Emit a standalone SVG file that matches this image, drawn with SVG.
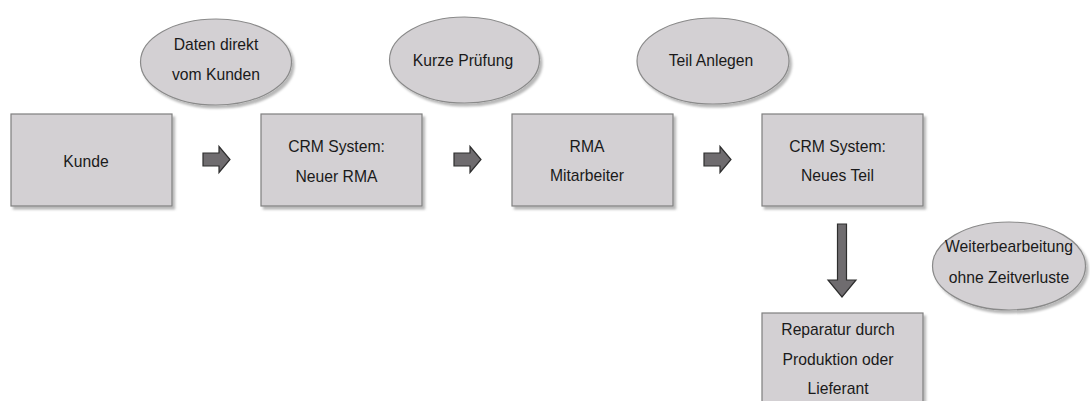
<svg xmlns="http://www.w3.org/2000/svg" width="1090" height="401" viewBox="0 0 1090 401">
  <defs>
    <filter id="shadow" x="-10%" y="-10%" width="125%" height="130%">
      <feDropShadow dx="2.5" dy="3" stdDeviation="1.2" flood-color="#000" flood-opacity="0.28"/>
    </filter>
    <!-- block arrow pointing right, origin at its left/middle -->
    <path id="arrowR" d="M0,-6.5 H16 V-13 L27,0 L16,13 V6.5 H0 Z"/>
  </defs>
  <style>
    .box { fill: #d3d0d3; stroke: #7f7f7f; stroke-width: 1.2; filter: url(#shadow); }
    .bubble { fill: #d3d0d3; stroke: #8a8a8a; stroke-width: 1.2; filter: url(#shadow); }
    .lbl { font-family: "Liberation Sans", Arial, sans-serif; font-size: 15.7px; fill: #1a1a1a; text-anchor: middle; }
    .arrow { fill: #6f6c6f; stroke: #2e2e2e; stroke-width: 1.2; }
  </style>
  <rect width="1090" height="401" fill="#ffffff"/>

  <!-- annotation bubbles -->
  <g id="bubble-daten">
    <ellipse class="bubble" cx="216" cy="62" rx="75.5" ry="43"/>
    <text class="lbl" x="216" y="50">Daten direkt</text>
    <text class="lbl" x="216" y="80">vom Kunden</text>
  </g>
  <g id="bubble-pruefung">
    <ellipse class="bubble" cx="464.5" cy="60" rx="75" ry="43"/>
    <text class="lbl" x="463" y="65.5">Kurze Prüfung</text>
  </g>
  <g id="bubble-teil">
    <ellipse class="bubble" cx="713" cy="61" rx="76" ry="43"/>
    <text class="lbl" x="711" y="65.5">Teil Anlegen</text>
  </g>
  <g id="bubble-weiter">
    <ellipse class="bubble" cx="1009" cy="266" rx="76.5" ry="44"/>
    <text class="lbl" x="1009" y="252">Weiterbearbeitung</text>
    <text class="lbl" x="1009" y="283">ohne Zeitverluste</text>
  </g>

  <!-- process steps -->
  <g id="node-kunde">
    <rect class="box" x="11" y="114" width="161" height="92"/>
    <text class="lbl" x="86" y="166.5">Kunde</text>
  </g>
  <g id="node-crm-rma">
    <rect class="box" x="261" y="114" width="161" height="92"/>
    <text class="lbl" x="336.5" y="152">CRM System:</text>
    <text class="lbl" x="336.5" y="182">Neuer RMA</text>
  </g>
  <g id="node-rma-mitarbeiter">
    <rect class="box" x="512" y="114" width="161" height="92"/>
    <text class="lbl" x="587" y="152">RMA</text>
    <text class="lbl" x="587" y="181">Mitarbeiter</text>
  </g>
  <g id="node-crm-teil">
    <rect class="box" x="762" y="114" width="161" height="92"/>
    <text class="lbl" x="837.5" y="152">CRM System:</text>
    <text class="lbl" x="837.5" y="181">Neues Teil</text>
  </g>
  <g id="node-reparatur">
    <rect class="box" x="762" y="313" width="161" height="92"/>
    <text class="lbl" x="838" y="335">Reparatur durch</text>
    <text class="lbl" x="838" y="364.5">Produktion oder</text>
    <text class="lbl" x="838" y="393.5">Lieferant</text>
  </g>

  <!-- connectors -->
  <g id="connectors">
    <use href="#arrowR" class="arrow" transform="translate(203,159.5)"/>
    <use href="#arrowR" class="arrow" transform="translate(454,159.5)"/>
    <use href="#arrowR" class="arrow" transform="translate(704,159.5)"/>
    <path class="arrow" d="M837.5,224 H846.5 V280 H856 L842,297 L828,280 H837.5 Z"/>
  </g>
</svg>
